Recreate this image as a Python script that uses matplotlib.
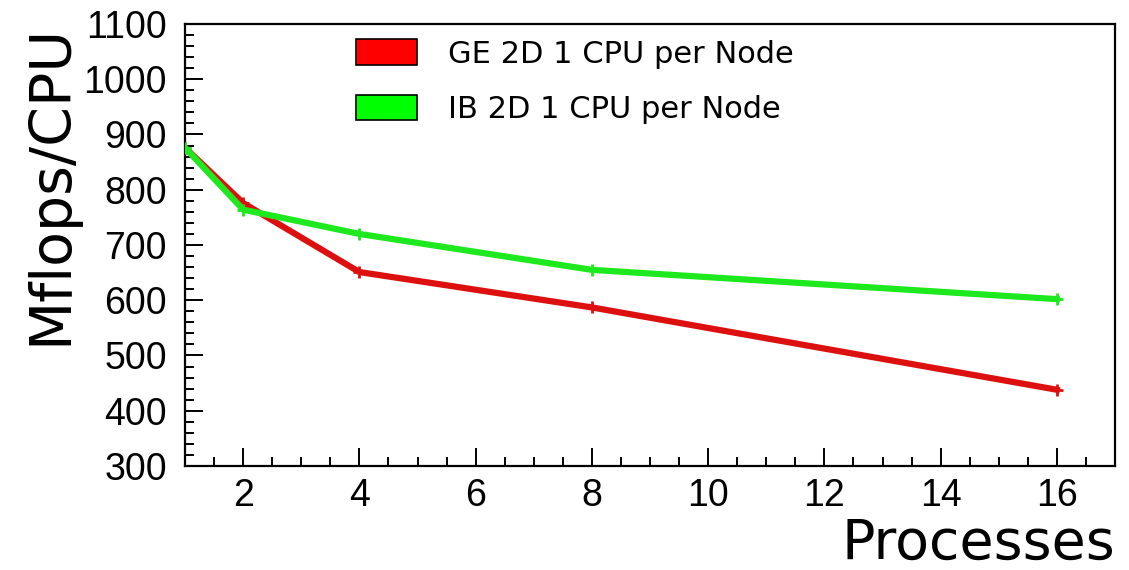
import matplotlib.pyplot as plt
from matplotlib.patches import Patch
from matplotlib.ticker import MultipleLocator

plt.rcParams['font.family'] = ['Liberation Sans', 'DejaVu Sans']

# measured throughput per CPU
processes = [1, 2, 4, 8, 16]
ge_mflops = [876, 776, 651, 587, 438]
ib_mflops = [876, 764, 720, 655, 602]
labels = ['GE 2D 1 CPU per Node', 'IB 2D 1 CPU per Node']

fig = plt.figure(figsize=(11.29, 5.70), dpi=100)
ax = fig.add_axes([0.1639, 0.1825, 0.8237, 0.7754])

ax.plot(processes, ge_mflops, color='#dd1010', lw=4.5, marker='+', ms=8, mew=2, zorder=3)
ax.plot(processes, ib_mflops, color='#1ee81e', lw=4.5, marker='+', ms=8, mew=2, zorder=4)

ax.set_xlim(1, 17)
ax.set_ylim(300, 1100)
ax.xaxis.set_major_locator(MultipleLocator(2))
ax.xaxis.set_minor_locator(MultipleLocator(0.5))
ax.yaxis.set_major_locator(MultipleLocator(100))
ax.yaxis.set_minor_locator(MultipleLocator(20))

for s in ax.spines.values():
    s.set_linewidth(1.6)
ax.tick_params(which='both', direction='in', top=False, right=False, width=1.4)
ax.tick_params(which='major', length=13)
ax.tick_params(which='minor', length=6.5)
ax.tick_params(axis='y', which='major', labelsize=27, pad=13)
ax.tick_params(axis='x', which='major', labelsize=27, pad=9)

# only 2..16 get a label on the x axis
ax.set_xticks([2, 4, 6, 8, 10, 12, 14, 16])

big = ['DejaVu Sans']
fig.text(0.9876, 0.02, 'Processes', ha='right', va='baseline', fontsize=40, family=big)
fig.text(0.045, 0.958, 'Mflops/CPU', rotation=90, ha='center', va='top', fontsize=41, family=big)

handles = [Patch(facecolor='#ff0000', edgecolor='black', lw=1.2),
           Patch(facecolor='#00ff00', edgecolor='black', lw=1.2)]
ax.legend(handles, labels, loc='upper left', bbox_to_anchor=(0.171, 0.993),
          frameon=False, prop={'family': big, 'size': 22}, handlelength=2.0, handleheight=0.9,
          handletextpad=1.0, labelspacing=0.85, borderaxespad=0)

fig.savefig('out.png', dpi=100, facecolor='white')
